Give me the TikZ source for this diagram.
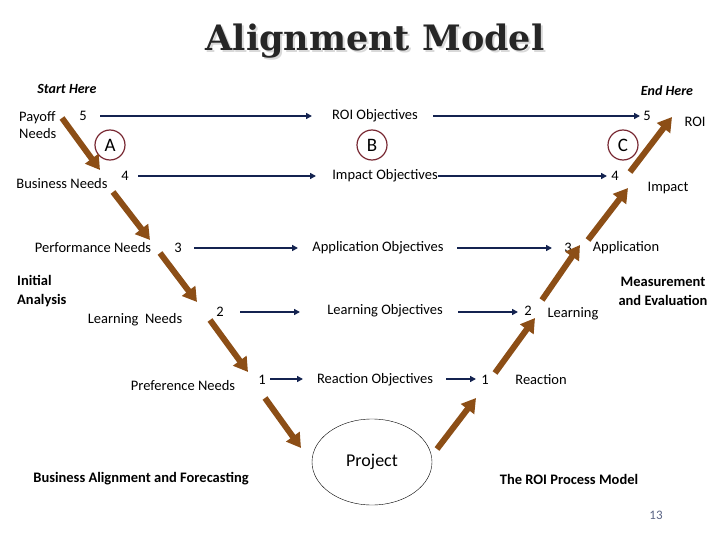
\documentclass[tikz,border=0pt]{standalone}
\usepackage{fontspec}
\setmainfont{Carlito}
\newfontfamily\titlefont{DejaVu Serif}
\usetikzlibrary{arrows.meta,shapes.geometric}
\definecolor{brn}{RGB}{140,78,22}
\definecolor{nvy}{RGB}{20,35,80}
\definecolor{circ}{RGB}{120,40,50}
\begin{document}
\begin{tikzpicture}[x=1pt,y=-1pt,
  lbl/.style={inner sep=0pt,font=\fontsize{14.5}{17}\selectfont},
  blbl/.style={inner sep=0pt,font=\fontsize{14.5}{17}\selectfont\bfseries,align=left},
  num/.style={inner sep=0pt,font=\fontsize{14.5}{17}\selectfont},
  bl/.style={nvy,line width=2.2pt,-{Triangle[length=6pt,width=6pt]}},
  br/.style={brn,line width=6pt,-{Triangle[length=14pt,width=16pt]}},
  cl/.style={circle,draw=circ,line width=1.2pt,minimum size=30pt,inner sep=0pt,font=\fontsize{19}{21}\selectfont}]
\useasboundingbox (0,0) rectangle (720,540);
\node[font=\titlefont\fontsize{35}{40}\selectfont\bfseries,text=black!15] (tsh) at (377,43) {Alignment Model};
\node[font=\titlefont\fontsize{35}{40}\selectfont\bfseries,text=black!85] (t) at (375,41) {Alignment Model};
\node[lbl,font=\fontsize{14}{16}\selectfont\bfseries\itshape] (sh) at (67,89) {Start Here};
\node[lbl,font=\fontsize{14}{16}\selectfont\bfseries\itshape] (eh) at (667,91) {End Here};
% row 5
\node[lbl,anchor=west,align=left] (pay) at (19,125) {Payoff\\Needs};
\node[num] (l5) at (83,116) {5};
\node[lbl] (o5) at (375,116) {ROI Objectives};
\node[num] (r5) at (647,116) {5};
\node[lbl] (roi) at (695,122) {ROI};
\coordinate (a5s) at (100,116); \coordinate (a5e) at (312,116);
\coordinate (b5s) at (433,116); \coordinate (b5e) at (640,116);
\draw[bl] (a5s) -- (a5e); \draw[bl] (b5s) -- (b5e);
\node[cl] (A) at (110,145) {A};
\node[cl] (B) at (372,145) {B};
\node[cl] (C) at (623,145) {C};
% row 4
\node[lbl] (bn) at (62,184) {Business Needs};
\node[num] (l4) at (125,176) {4};
\node[lbl] (o4) at (385,176) {Impact Objectives};
\node[num] (r4) at (615,176) {4};
\node[lbl] (imp) at (668,188) {Impact};
\draw[bl] (138,176) coordinate (a4s) -- (316,176) coordinate (a4e);
\draw[bl] (o4.east) -- (607,176) coordinate (b4e);
% row 3
\node[lbl] (pn) at (93,248) {Performance Needs};
\node[num] (l3) at (178,248) {3};
\node[lbl] (o3) at (378,248) {Application Objectives};
\node[num] (r3) at (568,248) {3};
\node[lbl] (app) at (626,248) {Application};
\draw[bl] (194,248) coordinate (a3s) -- (298,248) coordinate (a3e);
\draw[bl] (457,248) coordinate (b3s) -- (552,248) coordinate (b3e);
\node[blbl,anchor=west] (ia) at (17,291) {Initial\\[2pt]Analysis};
% row 2
\node[lbl] (ln) at (135,320) {Learning\ \ Needs};
\node[num] (l2) at (220,312) {2};
\node[lbl] (o2) at (385,311) {Learning Objectives};
\node[num] (r2) at (528,311) {2};
\node[lbl] (lea) at (573,314) {Learning};
\node[blbl,align=center] (me) at (663,291) {Measurement\\[2pt]and Evaluation};
\draw[bl] (240,312) coordinate (a2s) -- (300,312) coordinate (a2e);
\draw[bl] (458,312) coordinate (b2s) -- (518,312) coordinate (b2e);
% row 1
\node[lbl] (prn) at (183,386) {Preference Needs};
\node[num] (l1) at (262,380) {1};
\node[lbl] (o1) at (375,380) {Reaction Objectives};
\node[num] (r1) at (485,380) {1};
\node[lbl] (rea) at (541,380) {Reaction};
\draw[bl] (270,379) coordinate (a1s) -- (303,379) coordinate (a1e);
\draw[bl] (446,379) coordinate (b1s) -- (476,379) coordinate (b1e);
% project
\node[ellipse,draw,thin,minimum width=120pt,minimum height=86pt,inner sep=0pt,font=\fontsize{18}{20}\selectfont] (proj) at (372,462) {Project};
% brown arrows
\draw[br] (62,118) -- (100,170);
\draw[br] (113,192) -- (150,240);
\draw[br] (160,253) -- (197,302);
\draw[br] (210,320) -- (248,372);
\draw[br] (265,398) -- (301,448);
\draw[br] (437,449) -- (476,398);
\draw[br] (495,373) -- (535,318);
\draw[br] (542,300) -- (580,245);
\draw[br] (588,240) -- (628,188);
\draw[br] (630,172) -- (672,117);
% bottom
\node[blbl] (baf) at (141,479) {Business Alignment and Forecasting};
\node[blbl] (rpm) at (569,479) {The ROI Process Model};
\node[lbl,text=nvy!70,font=\fontsize{13}{15}\selectfont] (pg) at (656,515) {13};
\end{tikzpicture}
\end{document}
